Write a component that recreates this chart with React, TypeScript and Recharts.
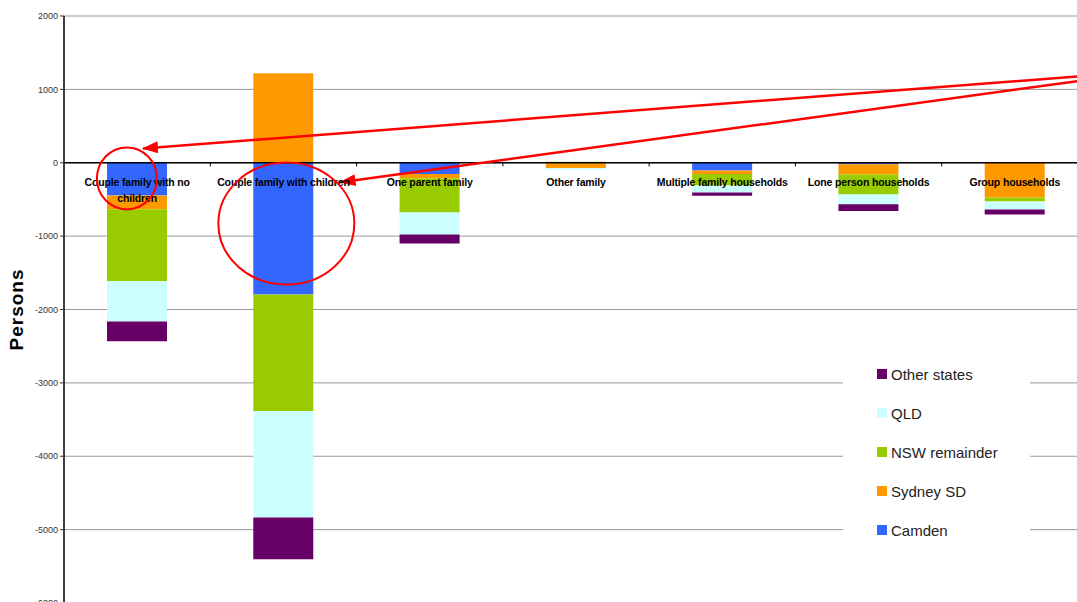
import React from 'react';
import {
  BarChart, Bar, XAxis, YAxis, CartesianGrid, ReferenceLine, ReferenceDot,
} from 'recharts';

const categories = [
  'Couple family with no children',
  'Couple family with children',
  'One parent family',
  'Other family',
  'Multiple family households',
  'Lone person households',
  'Group households',
];
const camden = [-445, -1795, -155, 0, -105, -20, 0];
const sydneySD = [-190, 1220, -55, -70, -50, -140, -473];
const nswRemainder = [-980, -1590, -468, 15, -155, -272, -55];
const qld = [-550, -1450, -300, -22, -95, -132, -110];
const otherStates = [-268, -570, -122, 0, -45, -95, -68];

const yTicks = [-6000, -5000, -4000, -3000, -2000, -1000, 0, 1000, 2000];

const seriesList = [
  { key: 'Camden', values: camden, color: '#3366FF' },
  { key: 'Sydney SD', values: sydneySD, color: '#FF9900' },
  { key: 'NSW remainder', values: nswRemainder, color: '#99CC00' },
  { key: 'QLD', values: qld, color: '#CCFFFF' },
  { key: 'Other states', values: otherStates, color: '#660066' },
];

// annotation positions in data units (x: category index scale 0..7, y: persons)
const arrows = [
  { x1: 6.93, y1: 1177, x2: 0.54, y2: 195 },
  { x1: 6.93, y1: 1113, x2: 1.89, y2: -265 },
];
const circles = [
  { x: 0.43, y: -213, rx: 30, ry: 31 },
  { x: 1.52, y: -828, rx: 68, ry: 61 },
];
const boundaryTicks = [1, 2, 3, 4, 5, 6];

const data = categories.map((name, i) => {
  const row: Record<string, any> = { name, pos: i + 0.5 };
  seriesList.forEach((s) => { row[s.key] = s.values[i]; });
  return row;
});

const FONT = '"Liberation Sans", Arial, sans-serif';

function wrapWords(s: string, maxChars: number): string[] {
  const words = s.split(' ');
  const lines: string[] = [];
  let cur = '';
  words.forEach((w) => {
    const next = cur ? cur + ' ' + w : w;
    if (next.length > maxChars && cur) {
      lines.push(cur);
      cur = w;
    } else {
      cur = next;
    }
  });
  if (cur) lines.push(cur);
  return lines;
}

const LegendBox = () => (
  <div style={{ position: 'absolute', left: 843, top: 355, width: 187, height: 195, background: '#fff', fontFamily: FONT }}>
    {[...seriesList].reverse().map((s, i) => (
      <div key={s.key} style={{ position: 'absolute', left: 34, top: 19 + i * 39 - 9, height: 18, display: 'flex', alignItems: 'center' }}>
        <span style={{ display: 'inline-block', width: 10, height: 10, background: s.color, marginRight: 4 }} />
        <span style={{ fontSize: 15, color: '#222', whiteSpace: 'nowrap' }}>{s.key}</span>
      </div>
    ))}
  </div>
);

export default function App() {
  return (
    <div style={{ position: 'absolute', left: 0, top: 0, width: 1077, height: 602, overflow: 'hidden', background: '#fff' }}>
      <svg width={0} height={0} style={{ position: 'absolute' }}>
        <defs>
          <marker id="redArrow" markerUnits="userSpaceOnUse" markerWidth={16} markerHeight={12} refX={15} refY={6} orient="auto">
            <path d="M0,0 L16,6 L0,12 Z" fill="#FF0000" />
          </marker>
        </defs>
      </svg>
      <BarChart
        width={1100}
        height={612}
        data={data}
        margin={{ top: 16, right: 12, bottom: 9, left: 0 }}
        stackOffset="sign"
        barSize={60}
      >
        <CartesianGrid vertical={false} stroke="#999" />
        <XAxis dataKey="name" hide />
        <XAxis xAxisId="ann" dataKey="pos" type="number" scale="linear" domain={[0, 7]} hide allowDataOverflow />
        <YAxis
          domain={[-6000, 2000]}
          ticks={yTicks}
          width={64}
          interval={0}
          tickSize={4}
          tickMargin={2}
          axisLine={{ stroke: '#000', strokeWidth: 1.5 }}
          tickLine={{ stroke: '#333' }}
          tick={{ fontSize: 9, fill: '#333', fontFamily: FONT }}
          allowDataOverflow
          label={{
            value: 'Persons', angle: -90, position: 'insideLeft', dx: 11,
            style: { fontSize: 19, fontWeight: 'bold', fill: '#000', fontFamily: FONT, textAnchor: 'middle', letterSpacing: 1 },
          }}
        />
        {seriesList.map((s) => (
          <Bar key={s.key} dataKey={s.key} stackId="a" fill={s.color} isAnimationActive={false} />
        ))}
        <ReferenceLine y={0} stroke="#000" strokeWidth={1.5} />
        {boundaryTicks.map((b) => (
          <ReferenceLine key={b} xAxisId="ann" segment={[{ x: b, y: 0 }, { x: b, y: -50 }]} stroke="#000" strokeWidth={1} />
        ))}
        {categories.map((c) => (
          <ReferenceDot
            key={c}
            x={c}
            y={0}
            shape={(p: any) => (
              <text
                x={p.cx}
                y={p.cy + 23}
                textAnchor="middle"
                style={{ fontSize: 10.5, fontWeight: 'bold', fontFamily: FONT, letterSpacing: -0.15 }}
                fill="#000"
              >
                {wrapWords(c, 27).map((line, li) => (
                  <tspan key={li} x={p.cx} dy={li === 0 ? 0 : 16}>{line}</tspan>
                ))}
              </text>
            )}
          />
        ))}
        {arrows.map((a, i) => (
          <ReferenceLine
            key={'arr' + i}
            xAxisId="ann"
            segment={[{ x: a.x1, y: a.y1 }, { x: a.x2, y: a.y2 }]}
            ifOverflow="visible"
            shape={(p: any) => (
              <line x1={p.x1} y1={p.y1} x2={p.x2} y2={p.y2} stroke="#FF0000" strokeWidth={2.5} markerEnd="url(#redArrow)" />
            )}
          />
        ))}
        {circles.map((c, i) => (
          <ReferenceDot
            key={'c' + i}
            xAxisId="ann"
            x={c.x}
            y={c.y}
            ifOverflow="visible"
            shape={(p: any) => (
              <ellipse cx={p.cx} cy={p.cy} rx={c.rx} ry={c.ry} fill="none" stroke="#FF0000" strokeWidth={2} />
            )}
          />
        ))}
      </BarChart>
      <LegendBox />
    </div>
  );
}
